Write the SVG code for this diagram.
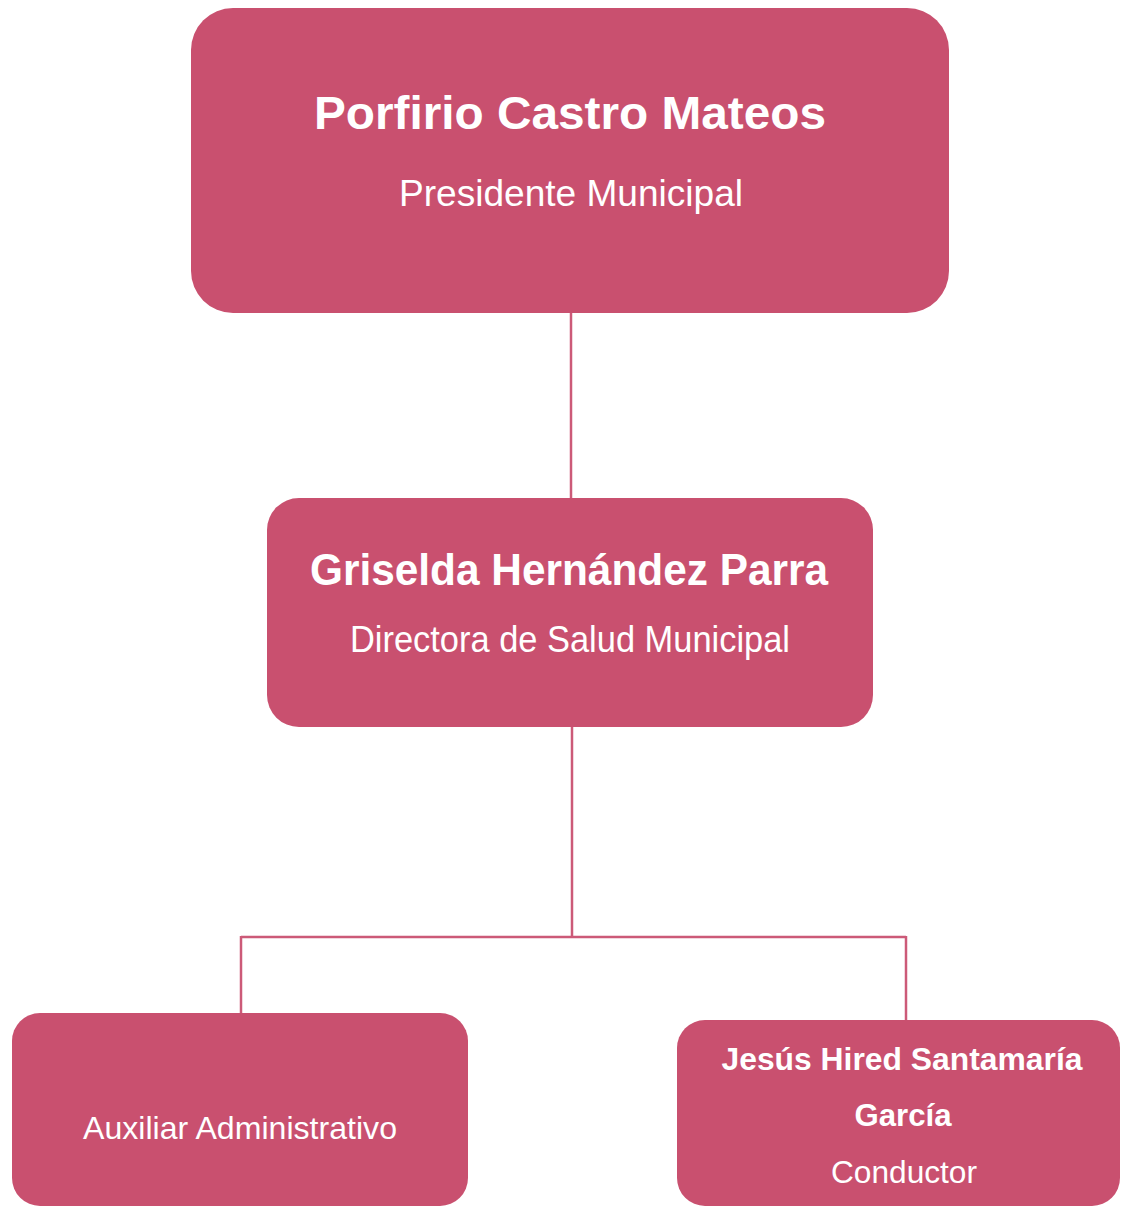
<svg xmlns="http://www.w3.org/2000/svg" width="1121" height="1207" viewBox="0 0 1121 1207">
<style>
.box{fill:#C9506F}
.ln{stroke:#CC5A78;stroke-width:2.5;fill:none}
.b{font-family:"Liberation Sans",Arial,sans-serif;font-weight:bold;fill:#FFFFFF;text-anchor:middle}
.r{font-family:"Liberation Sans",Arial,sans-serif;fill:#FFFFFF;text-anchor:middle}
</style>
<rect width="1121" height="1207" fill="#FFFFFF"/>
<g id="connectors">
<line class="ln" x1="571" y1="312" x2="571" y2="499"/>
<line class="ln" x1="572" y1="726" x2="572" y2="937"/>
<line class="ln" x1="241" y1="937" x2="906" y2="937"/>
<line class="ln" x1="241" y1="936" x2="241" y2="1014"/>
<line class="ln" x1="906" y1="936" x2="906" y2="1021"/>
</g>
<g id="node-presidente">
<rect class="box" x="191" y="8" width="758" height="305" rx="42" ry="42"/>
<text class="b" x="570" y="129" font-size="46" textLength="512" lengthAdjust="spacingAndGlyphs">Porfirio Castro Mateos</text>
<text class="r" x="571" y="206" font-size="37" textLength="344" lengthAdjust="spacingAndGlyphs">Presidente Municipal</text>
</g>
<g id="node-directora">
<rect class="box" x="267" y="498" width="606" height="229" rx="32" ry="32"/>
<text class="b" x="569" y="585" font-size="44" textLength="518" lengthAdjust="spacingAndGlyphs">Griselda Hernández Parra</text>
<text class="r" x="570" y="652" font-size="36" textLength="440" lengthAdjust="spacingAndGlyphs">Directora de Salud Municipal</text>
</g>
<g id="node-auxiliar">
<rect class="box" x="12" y="1013" width="456" height="193" rx="28" ry="28"/>
<text class="r" x="240" y="1139" font-size="32" textLength="314" lengthAdjust="spacingAndGlyphs">Auxiliar Administrativo</text>
</g>
<g id="node-conductor">
<rect class="box" x="677" y="1020" width="443" height="186" rx="28" ry="28"/>
<text class="b" x="902" y="1070" font-size="31" textLength="361" lengthAdjust="spacingAndGlyphs">Jesús Hired Santamaría</text>
<text class="b" x="903" y="1126" font-size="31" textLength="97" lengthAdjust="spacingAndGlyphs">García</text>
<text class="r" x="904" y="1183" font-size="32" textLength="146" lengthAdjust="spacingAndGlyphs">Conductor</text>
</g>
</svg>
